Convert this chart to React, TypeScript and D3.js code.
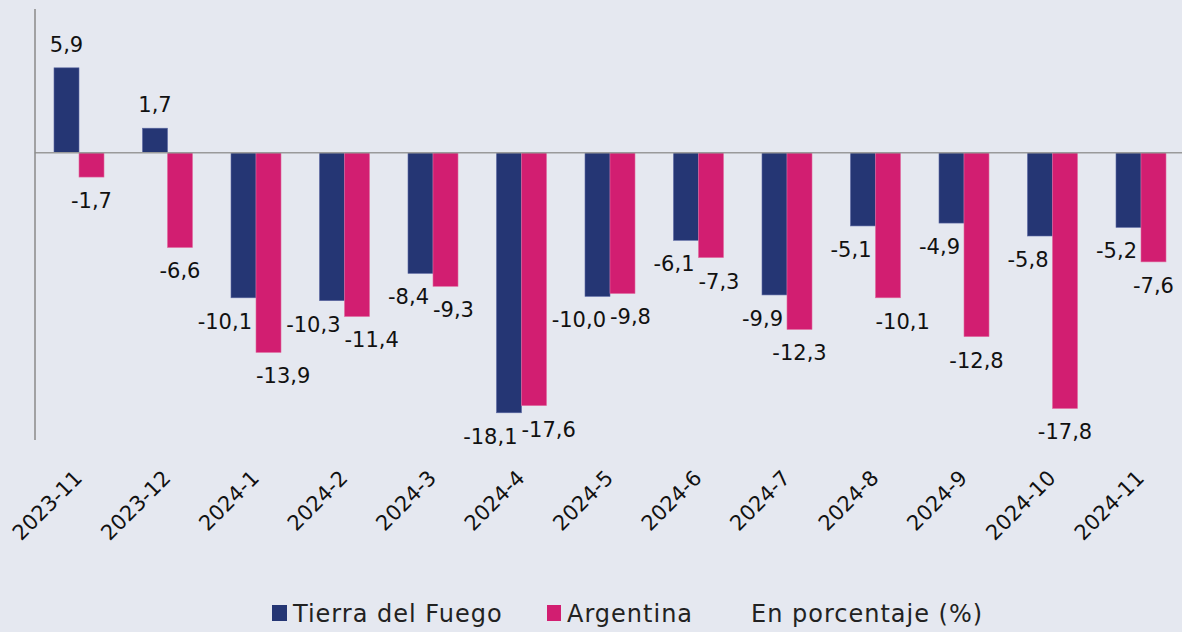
import React from "react";
import * as d3 from "d3";

const categories = ["2023-11","2023-12","2024-1","2024-2","2024-3","2024-4","2024-5","2024-6","2024-7","2024-8","2024-9","2024-10","2024-11"];
const tierraDelFuego = [5.9, 1.7, -10.1, -10.3, -8.4, -18.1, -10.0, -6.1, -9.9, -5.1, -4.9, -5.8, -5.2];
const argentina = [-1.7, -6.6, -13.9, -11.4, -9.3, -17.6, -9.8, -7.3, -12.3, -10.1, -12.8, -17.8, -7.6];
const seriesNames = ["Tierra del Fuego", "Argentina"];
const unitNote = "En porcentaje (%)";

// layout: which Argentina labels sit centred under their bar
const argCentered = [true, true, false, false, false, false, false, false, true, false, true, true, true];

const W = 1182, H = 632;
const NAVY = "#253674";
const MAGENTA = "#D21E71";
const BG = "#E5E8F0";
const FONT = "'DejaVu Sans', sans-serif";

const fmt = (v: number) => v.toFixed(1).replace(".", ",");

export default function App() {
  const x = d3.scaleBand<string>().domain(categories).range([34.75, 1185.25]).paddingInner(0.435).paddingOuter(0.2175);
  const inner = d3.scaleBand<string>().domain(seriesNames).range([0, x.bandwidth()]);
  const y = d3.scaleLinear().domain([-20, 10]).range([440.1, 8.9]);
  const y0 = y(0);
  const bw = inner.bandwidth();

  return (
    <div style={{ position: "fixed", left: 0, top: 0 }}>
      <svg width={W} height={H} style={{ display: "block", fontFamily: FONT }}>
        <rect x={0} y={0} width={W} height={H} fill={BG} />
        {categories.map((c, i) => {
          const gx = x(c)!;
          const center = gx + x.bandwidth() / 2;
          const tv = tierraDelFuego[i];
          const av = argentina[i];
          const tx = gx + inner(seriesNames[0])!;
          const ax = gx + inner(seriesNames[1])!;
          return (
            <g key={c}>
              <rect x={tx} y={Math.min(y(tv), y0)} width={bw} height={Math.abs(y(tv) - y0)} fill={NAVY} stroke="#5b68a3" strokeWidth={0.6} />
              <rect x={ax} y={Math.min(y(av), y0)} width={bw} height={Math.abs(y(av) - y0)} fill={MAGENTA} stroke="#e06a9f" strokeWidth={0.6} />
              {tv >= 0 ? (
                <text x={tx + bw / 2} y={y(tv) - 16} textAnchor="middle" fontSize={21} fill="#111">{fmt(tv)}</text>
              ) : (
                <text x={center - 4} y={y(tv) + 31} textAnchor="end" fontSize={21} fill="#111">{fmt(tv)}</text>
              )}
              {argCentered[i] ? (
                <text x={ax + bw / 2} y={y(av) + 31} textAnchor="middle" fontSize={21} fill="#111">{fmt(av)}</text>
              ) : (
                <text x={center} y={y(av) + 31} textAnchor="start" fontSize={21} fill="#111">{fmt(av)}</text>
              )}
              <text transform={`translate(${center - 6},469) rotate(-45)`} textAnchor="end" dy="0.7em" fontSize={21} fill="#111">{c}</text>
            </g>
          );
        })}
        <line x1={34.75} x2={W} y1={y0} y2={y0} stroke="#9a9a9a" strokeWidth={1.5} />
        <line x1={35} x2={35} y1={y(10)} y2={y(-20)} stroke="#8a8a8a" strokeWidth={1.5} />
        <g fontSize={24} fill="#222" letterSpacing={1}>
          <rect x={272} y={605} width={15} height={16} fill={NAVY} />
          <text x={293} y={622}>{seriesNames[0]}</text>
          <rect x={547} y={605} width={14} height={16} fill={MAGENTA} />
          <text x={567} y={622}>{seriesNames[1]}</text>
          <text x={751} y={622}>{unitNote}</text>
        </g>
      </svg>
    </div>
  );
}
